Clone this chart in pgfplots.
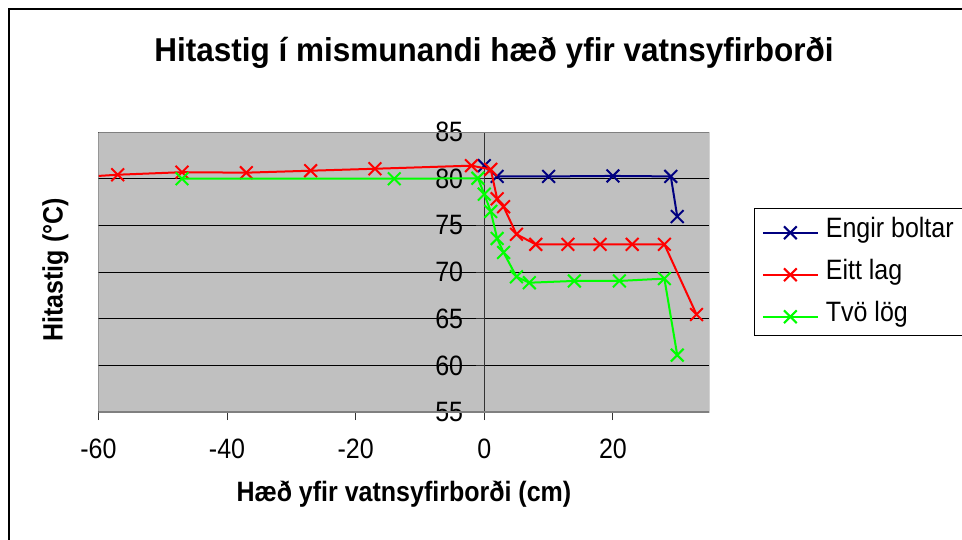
\documentclass[border=0pt]{standalone}
\usepackage{fontspec}
\setmainfont{Liberation Sans}
\usepackage{pgfplots}
\pgfplotsset{compat=1.18}
\definecolor{navyx}{RGB}{0,0,128}
\definecolor{redx}{RGB}{255,0,0}
\definecolor{greenx}{RGB}{0,255,0}
\definecolor{plotbg}{RGB}{192,192,192}
\definecolor{framegray}{RGB}{128,128,128}
\newcommand\tickfont{\fontsize{25}{25}\selectfont}
\newcommand\vs[1]{\scalebox{1}[1.12]{#1}}
\begin{document}
\begin{tikzpicture}[x=1pt,y=1pt]
\useasboundingbox (0,0) rectangle (962,539);
\draw[line width=2pt] (9,-20) -- (9,530) -- (990,530);
\node[font=\bfseries\fontsize{31.5}{32}\selectfont, anchor=base] at (494,477) {\scalebox{1}[1.05]{Hitastig í mismunandi hæð yfir vatnsyfirborði}};
\begin{axis}[
  at={(153,136)}, anchor=south west,
  scale only axis, width=611pt, height=280pt,
  xmin=-60, xmax=35, ymin=55, ymax=85,
  axis x line=bottom, axis y line=middle,
  x axis line style={-, black!80, line width=1.2pt},
  y axis line style={-, black!80, line width=1.2pt},
  hide obscured x ticks=false, hide obscured y ticks=false,
  tick align=outside, major tick length=8pt,
  tick style={black!80, line width=1pt},
  xtick={-60,-40,-20,0,20}, xticklabels={\vs{-60},\vs{-40},\vs{-20},\vs{0},\vs{20}},
  ytick={55,60,65,70,75,80,85}, yticklabels={\vs{55},\vs{60},\vs{65},\vs{70},\vs{75},\vs{80},\vs{85}},
  xticklabel style={font=\tickfont, anchor=center, inner sep=0pt, yshift=-29pt},
  yticklabel style={font=\tickfont, anchor=east, inner sep=0pt, xshift=-13pt},
  ymajorgrids, grid style={black, line width=0.8pt},
  axis background/.style={fill=plotbg},
  clip marker paths=true,
  xlabel={\vs{Hæð yfir vatnsyfirborði (cm)}},
  ylabel={\vs{Hitastig (°C)}},
  every axis x label/.style={at={(axis description cs:0.5,-0.318)}, anchor=base, font=\bfseries\fontsize{25}{25}\selectfont},
  every axis y label/.style={at={(axis description cs:-0.0584,0.508)}, anchor=base, rotate=90, font=\bfseries\fontsize{25}{25}\selectfont},
  legend style={at={(axis description cs:1.0736,0.7296)}, anchor=north west, draw=black, line width=1pt, fill=white, inner xsep=7pt, inner ysep=9pt, row sep=17pt, column sep=7pt, font=\fontsize{25}{25}\selectfont, nodes={inner sep=0pt, text height=20pt, text depth=5pt}},
  legend cell align=left,
  legend image code/.code={\draw[mark repeat=2,mark phase=2,#1] plot coordinates {(0pt,-3pt) (27.5pt,-3pt) (55pt,-3pt)};},
  every axis plot/.append style={line width=2pt, mark=x, mark size=9pt, mark options={line width=1.8pt}},
]
\addplot[navyx, mark options={navyx}] coordinates {
(0,81.4) (2,80.25) (10,80.25) (20,80.3) (29,80.25) (30,75.95)
};
\addlegendentry{\makebox[150pt][l]{\vs{Engir boltar}}}
\addplot[redx, mark options={redx}] coordinates {
(-67,80.0) (-57,80.43) (-47,80.7) (-37,80.65) (-27,80.86) (-17,81.07) (-2,81.4)
(1,81.0) (2,77.85) (3,77.0) (5,74.05) (8,72.97) (13,72.97) (18,72.97) (23,72.97) (28,72.97) (33,65.45)
};
\addlegendentry{\makebox[150pt][l]{\vs{Eitt lag}}}
\addplot[greenx, mark options={greenx}] coordinates {
(-47,80.0) (-14,80.0) (-1,80.05) (0,78.35) (1,76.5) (2,73.6) (3,72.1) (5,69.5) (7,68.86) (14,69.05) (21,69.05) (28,69.3) (30,61.1)
};
\addlegendentry{\makebox[150pt][l]{\vs{Tvö lög}}}
\draw[framegray, line width=1.5pt] (rel axis cs:0,0) rectangle (rel axis cs:1,1);
\end{axis}
\end{tikzpicture}
\end{document}
